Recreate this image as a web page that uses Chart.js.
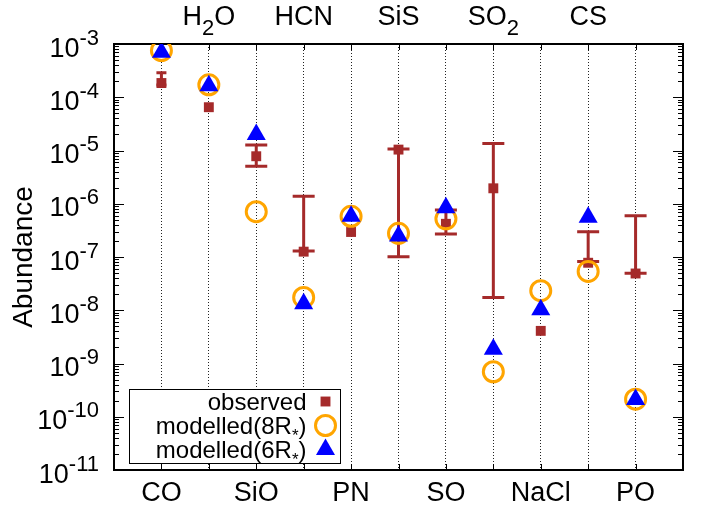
<!DOCTYPE html>
<html><head><meta charset="utf-8">
<script src="https://cdn.jsdelivr.net/npm/chart.js@4.4.0/dist/chart.umd.min.js"></script>
<style>html,body{margin:0;padding:0;background:#fff}</style>
</head><body>
<canvas id="c" width="708" height="513"></canvas>
<script>
// ---- data ----
const categories = ['CO','H2O','SiO','HCN','PN','SiS','SO','SO2','NaCl','CS','PO'];
const observed = [1.85e-4, 6.5e-5, 7.8e-6, 1.26e-7, 2.95e-7, 1.04e-5, 4.2e-7, 1.95e-6, 4.1e-9, 7.8e-8, 4.9e-8];
const obsLow   = [1.7e-4, null, 5.05e-6, 1.3e-7, null, 1.01e-7, 2.7e-7, 1.74e-8, null, 8.2e-8, 4.95e-8];
const obsHigh  = [2.88e-4, null, 1.27e-5, 1.38e-6, null, 1.07e-5, 7.6e-7, 1.36e-5, null, 2.99e-7, 5.97e-7];
const model8R  = [7.55e-4, 1.71e-4, 7.1e-7, 1.74e-8, 5.8e-7, 2.78e-7, 5.2e-7, 7.0e-10, 2.33e-8, 5.37e-8, 2.14e-10];
const model6R  = [7.0e-4, 1.65e-4, 2.0e-5, 1.32e-8, 5.8e-7, 2.47e-7, 8.45e-7, 1.86e-9, 1.02e-8, 5.55e-7, 2.1e-10];
const yTickExps = [-3, -4, -5, -6, -7, -8, -9, -10, -11];
const yTitle = 'Abundance';
const seriesLabels = ['observed', 'modelled(8R*)', 'modelled(6R*)'];

// ---- styles ----
const FONT = "'Liberation Sans', Arial, Helvetica, sans-serif";
const BROWN = '#a52a2a', ORANGE = '#ffa500', BLUE = '#0000ff';
const capHalf = [5, 11, 11, 11, 11, 11, 11, 11, 11, 11, 11];
const MAIN = 27, SMALL = 22;

const xs = categories.map((_, i) => i + 1);
const pts = arr => arr.map((v, i) => ({x: xs[i], y: v}));

const styles = [
  {pointStyle: 'rect', radius: 7, fill: BROWN, stroke: BROWN, borderWidth: 0},
  {pointStyle: 'circle', radius: 10, fill: 'rgba(0,0,0,0)', stroke: ORANGE, borderWidth: 3},
  {pointStyle: 'triangle', radius: 11, fill: BLUE, stroke: BLUE, borderWidth: 0}
];

function drawRichText(ctx, text, xRight, xCenter, base, size, mode) {
  const parts = [];
  if (mode === 'sub-digits') {
    for (const ch of text) parts.push(/[0-9]/.test(ch) ? {t: ch, s: SMALL, dy: 10} : {t: ch, s: size, dy: 0});
  } else {
    for (const ch of text) parts.push(ch === '*' ? {t: ch, s: 17, dy: 7} : {t: ch, s: size, dy: 0});
  }
  let total = 0;
  parts.forEach(p => { ctx.font = p.s + 'px ' + FONT; p.w = ctx.measureText(p.t).width; total += p.w; });
  let x = xRight != null ? xRight - total : xCenter - total / 2;
  ctx.textAlign = 'left'; ctx.textBaseline = 'alphabetic'; ctx.fillStyle = '#000';
  parts.forEach(p => { ctx.font = p.s + 'px ' + FONT; ctx.fillText(p.t, x, base + p.dy); x += p.w; });
}

const deco = {
  id: 'deco',
  beforeDatasetsDraw(chart) {
    const {ctx, scales: {x, y}, chartArea: a} = chart;
    ctx.save();
    ctx.strokeStyle = '#000'; ctx.lineWidth = 1;
    ctx.beginPath();
    xs.forEach(v => {
      const px = Math.round(x.getPixelForValue(v)) + 0.5;
      ctx.moveTo(px, a.bottom); ctx.lineTo(px, a.bottom - 6);
      ctx.moveTo(px, a.top); ctx.lineTo(px, a.top + 6);
    });
    for (let e = -11; e <= -3; e++) {
      for (let m = 1; m <= 9; m++) {
        if (e === -3 && m > 1) break;
        const py = Math.round(y.getPixelForValue(m * Math.pow(10, e))) + 0.5;
        const len = m === 1 ? 10 : 5;
        ctx.moveTo(a.left, py); ctx.lineTo(a.left + len, py);
        ctx.moveTo(a.right, py); ctx.lineTo(a.right - len, py);
      }
    }
    ctx.stroke();
    ctx.strokeStyle = BROWN; ctx.lineWidth = 3;
    obsLow.forEach((lo, i) => {
      const hi = obsHigh[i];
      if (lo == null || hi == null) return;
      const px = x.getPixelForValue(xs[i]);
      const y1 = y.getPixelForValue(lo), y2 = y.getPixelForValue(hi);
      const hw = capHalf[i];
      ctx.beginPath();
      ctx.moveTo(px, y1); ctx.lineTo(px, y2);
      ctx.moveTo(px - hw, y1); ctx.lineTo(px + hw, y1);
      ctx.moveTo(px - hw, y2); ctx.lineTo(px + hw, y2);
      ctx.stroke();
    });
    ctx.restore();
  },
  afterDraw(chart) {
    const {ctx, scales: {x, y}, chartArea: a} = chart;
    ctx.save();
    yTickExps.forEach(e => {
      const py = y.getPixelForValue(Math.pow(10, e));
      const base = py + 12.5;
      const exp = String(e);
      ctx.font = SMALL + 'px ' + FONT; const wE = ctx.measureText(exp).width;
      ctx.font = MAIN + 'px ' + FONT; const w10 = ctx.measureText('10').width;
      const right = a.left - 15;
      ctx.fillStyle = '#000'; ctx.textAlign = 'left'; ctx.textBaseline = 'alphabetic';
      ctx.fillText('10', right - wE - w10, base);
      ctx.font = SMALL + 'px ' + FONT;
      ctx.fillText(exp, right - wE, base - 12);
    });
    categories.forEach((c, i) => {
      if (i % 2 === 1) drawRichText(ctx, c, null, x.getPixelForValue(xs[i]), a.top - 19, MAIN, 'sub-digits');
    });
    const L = {x: a.left + 15.5, y: a.bottom - 80.5, w: 211, h: 74};
    ctx.fillStyle = '#fff'; ctx.fillRect(L.x, L.y, L.w, L.h);
    ctx.strokeStyle = '#000'; ctx.lineWidth = 1; ctx.strokeRect(L.x, L.y, L.w, L.h);
    seriesLabels.forEach((lab, k) => {
      const base = L.y + 20 + k * 24;
      drawRichText(ctx, lab, L.x + 177, null, base, 24, 'star');
      const st = styles[k];
      ctx.fillStyle = st.fill; ctx.strokeStyle = st.stroke; ctx.lineWidth = st.borderWidth;
      Chart.helpers.drawPoint(ctx, {pointStyle: st.pointStyle, radius: st.radius, rotation: 0, borderWidth: st.borderWidth}, L.x + 196, base - 8);
    });
    ctx.restore();
  }
};

new Chart(document.getElementById('c'), {
  type: 'scatter',
  data: {
    datasets: [
      {label: seriesLabels[2], data: pts(model6R), pointStyle: styles[2].pointStyle, pointRadius: styles[2].radius, backgroundColor: styles[2].fill, borderColor: styles[2].stroke, borderWidth: 0, order: 1},
      {label: seriesLabels[1], data: pts(model8R), pointStyle: styles[1].pointStyle, pointRadius: styles[1].radius, backgroundColor: styles[1].fill, borderColor: styles[1].stroke, borderWidth: 3, order: 2},
      {label: seriesLabels[0], data: pts(observed), pointStyle: styles[0].pointStyle, pointRadius: styles[0].radius, backgroundColor: styles[0].fill, borderColor: styles[0].stroke, borderWidth: 0, order: 3}
    ]
  },
  options: {
    responsive: false, animation: false, devicePixelRatio: 1,
    layout: {padding: 0},
    plugins: {legend: {display: false}, tooltip: {enabled: false}},
    elements: {point: {hoverRadius: 0}},
    scales: {
      x: {
        type: 'linear', position: 'bottom', min: 0, max: 12,
        afterBuildTicks: s => { s.ticks = xs.map(v => ({value: v})); },
        afterFit: s => { s.height = 43; },
        ticks: {callback: (v) => (Math.round(v) % 2 === 1 ? categories[Math.round(v) - 1] : ''), font: {family: FONT, size: MAIN}, color: '#000', padding: 7, maxRotation: 0, autoSkip: false},
        grid: {display: true, drawOnChartArea: true, drawTicks: false, color: '#222', lineWidth: 1, borderDash: [1, 2]},
        border: {display: true, color: '#000', width: 2, dash: [1, 2]}
      },
      x2: {
        type: 'linear', position: 'top', min: 0, max: 12,
        afterFit: s => { s.height = 44; },
        ticks: {display: false},
        grid: {display: false, drawTicks: false},
        border: {display: true, color: '#000', width: 2}
      },
      y: {
        type: 'logarithmic', position: 'left', min: 1e-11, max: 1e-3,
        afterFit: s => { s.width = 114; },
        ticks: {display: false},
        grid: {display: false, drawTicks: false},
        border: {display: true, color: '#000', width: 2},
        title: {display: true, text: yTitle, font: {family: FONT, size: 28}, color: '#000', padding: {top: 7, bottom: 0}}
      },
      y2: {
        type: 'logarithmic', position: 'right', min: 1e-11, max: 1e-3,
        afterFit: s => { s.width = 25; },
        ticks: {display: false},
        grid: {display: false, drawTicks: false},
        border: {display: true, color: '#000', width: 2}
      }
    }
  },
  plugins: [deco]
});
</script>
</body></html>
